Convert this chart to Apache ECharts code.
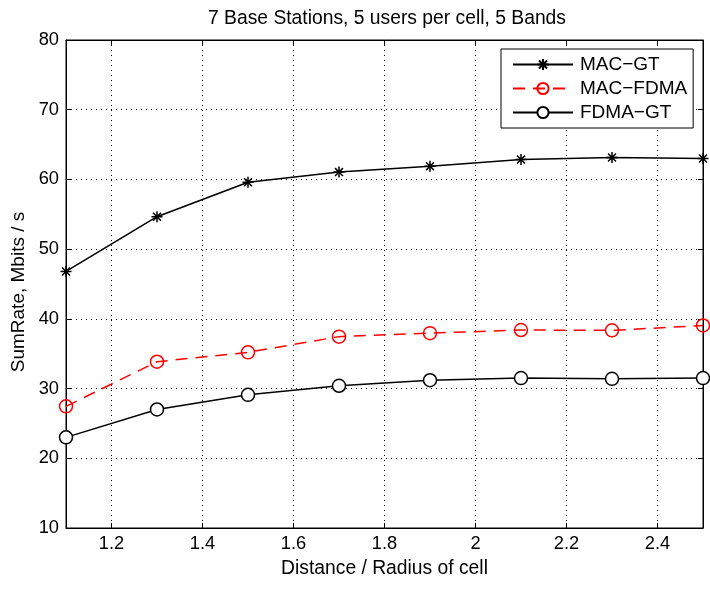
<!DOCTYPE html>
<html><head><meta charset="utf-8">
<script src="https://cdn.jsdelivr.net/npm/echarts@6/dist/echarts.min.js"></script>
<style>html,body{margin:0;padding:0;background:#fff}#c{width:710px;height:593px}</style>
</head><body><div id="c"></div>
<script>
const distances = [1.1, 1.3, 1.5, 1.7, 1.9, 2.1, 2.3, 2.5];
const macGT = [46.8, 54.65, 59.6, 61.05, 61.9, 62.85, 63.15, 63.0];
const macFDMA = [27.45, 33.85, 35.2, 37.45, 37.95, 38.4, 38.35, 39.05];
const fdmaGT = [23.0, 27.0, 29.1, 30.4, 31.2, 31.5, 31.4, 31.5];
const xTicks = [1.2, 1.4, 1.6, 1.8, 2, 2.2, 2.4];
const yTicks = [10, 20, 30, 40, 50, 60, 70, 80];

const font = 'Liberation Sans';
const asterisk = 'path://M0,-1L0,1M-1,0L1,0M-0.72,-0.72L0.72,0.72M-0.72,0.72L0.72,-0.72';
const pair = a => distances.map((d, i) => [d, a[i]]);

const chart = echarts.init(document.getElementById('c'));
const grid = {left: 66, right: 7, top: 40, bottom: 65, show: true, borderColor: '#000', borderWidth: 1, backgroundColor: '#fff'};
const splitLine = {show: true, lineStyle: {color: '#000', type: [1, 4], width: 1}};
const tick = {show: true, inside: true, length: 5, lineStyle: {color: '#000'}};
const line = {show: true, onZero: false, lineStyle: {color: '#000'}};
const xFmt = v => xTicks.some(t => Math.abs(t - v) < 1e-6) ? String(+v.toFixed(1)) : '';
const yFmt = v => yTicks.some(t => Math.abs(t - v) < 1e-6) ? String(v) : '';
chart.setOption({
  animation: false,
  title: {text: '7 Base Stations, 5 users per cell, 5 Bands', left: 203, top: 4,
    textStyle: {fontFamily: font, fontSize: 19.3, fontWeight: 'normal', color: '#000'}},
  grid,
  legend: {
    orient: 'vertical', left: 501, top: 49, padding: [6, 6, 6, 11], itemGap: 5,
    itemWidth: 60, itemHeight: 14,
    backgroundColor: '#fff', borderColor: '#000', borderWidth: 1,
    textStyle: {fontFamily: font, fontSize: 19, color: '#000', padding: [0, 0, 0, 2]},
    data: ['MAC\u2212GT', 'MAC\u2212FDMA', 'FDMA\u2212GT']
  },
  xAxis: [{
    type: 'value', min: 1.1, max: 2.5, splitNumber: 7,
    name: 'Distance / Radius of cell', nameLocation: 'middle', nameGap: 31,
    nameTextStyle: {fontFamily: font, fontSize: 19.3, color: '#000'},
    axisLine: line, axisTick: tick,
    axisLabel: {fontFamily: font, fontSize: 18.3, color: '#000', margin: 7, showMinLabel: false, showMaxLabel: false, formatter: xFmt},
    splitLine
  }, {
    type: 'value', min: 1.1, max: 2.5, splitNumber: 7, position: 'top',
    axisLine: line, axisTick: tick, axisLabel: {show: false}, splitLine: {show: false}
  }],
  yAxis: [{
    type: 'value', min: 10, max: 80, interval: 10,
    name: 'SumRate, Mbits / s', nameLocation: 'middle', nameGap: 38,
    nameTextStyle: {fontFamily: font, fontSize: 19, color: '#000', padding: [0, 16, 0, 0]},
    axisLine: line, axisTick: tick,
    axisLabel: {fontFamily: font, fontSize: 18.3, color: '#000', margin: 7, formatter: yFmt},
    splitLine
  }, {
    type: 'value', min: 10, max: 80, interval: 10, position: 'right',
    axisLine: line, axisTick: tick, axisLabel: {show: false}, splitLine: {show: false}
  }],
  series: [{
    name: 'MAC\u2212GT', type: 'line', data: pair(macGT),
    symbol: asterisk, symbolSize: 11,
    lineStyle: {color: '#000', width: 1.5},
    itemStyle: {color: '#000', borderColor: '#000', borderWidth: 1.5}
  }, {
    name: 'MAC\u2212FDMA', type: 'line', data: pair(macFDMA),
    symbol: 'circle', symbolSize: 13,
    lineStyle: {color: '#f00', width: 1.5, type: [12, 8]},
    itemStyle: {color: 'rgba(0,0,0,0)', borderColor: '#f00', borderWidth: 1.5}
  }, {
    name: 'FDMA\u2212GT', type: 'line', data: pair(fdmaGT),
    symbol: 'circle', symbolSize: 13,
    lineStyle: {color: '#000', width: 1.5},
    itemStyle: {color: '#fff', borderColor: '#000', borderWidth: 1.5}
  }]
});
</script></body></html>
